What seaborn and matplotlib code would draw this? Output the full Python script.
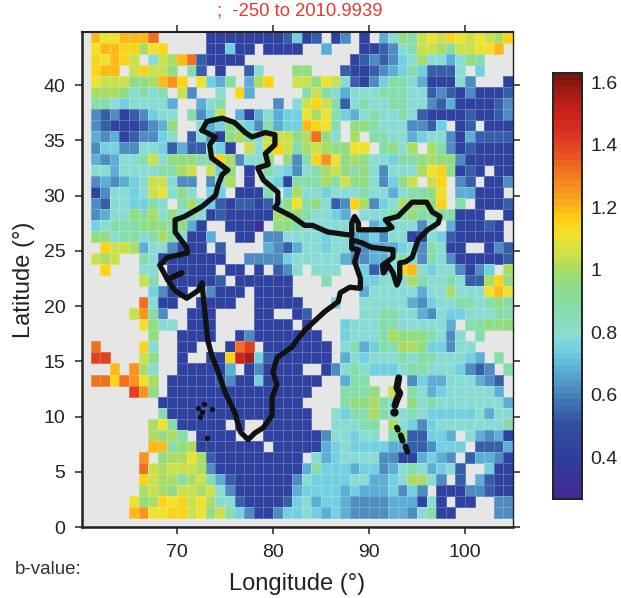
import matplotlib
matplotlib.use("Agg")
import matplotlib.pyplot as plt
import seaborn as sns
import numpy as np
import pandas as pd
from matplotlib.colors import LinearSegmentedColormap

sns.set_theme(style="ticks")
plt.rcParams['font.family'] = ['Liberation Sans', 'DejaVu Sans']

# b-value per 1 degree cell, one string per latitude row (north to south),
# each letter is a colour class, '.' is no data
grid_rows = [
    "mkkmmmo.....aaaaaaaabe" + "ab.ac.a.dfhgjkjlkjkjil",
    "kmmllikl....aaeaa.aaaa" + "..d...aabcfgjjigjjkkm.",
    "lkmlj.fjimobaaaa......" + ".....abcbcefiffdfhg...",
    "lmm.jljjh.gb.a..bf...h" + "h...baabcdegebbbf.e...",
    "kjjjhhimnl.kedg.dil..j" + "jhkjfbaceggfdaaafc...a",
    "iiihfgfg.jc..f.ld....." + "gjgfdfffgggffbcbacaaab",
    "ggfeffffd..dfg.....c.f" + "jljgbfgffggffcbdaaaabc",
    "cbcabceff.gcej.dadfdee" + "kikgedfgffgfbaaaabaabc",
    "cbaaabcdh..fdehfecgdee" + "mlkg.hhgfffccbe.ab.aaa",
    "dcdabccef.bfcahigfjjjh" + "iohf.i.ggffdeffcadbbbb",
    "ceeccffebdbbfea.jfjljg" + "ijihhkk.ghfi.igcabaaaa",
    "dcdffgjfhhhgglicffh.hc" + "glnkhihffegghihhcaaaaa",
    "ffdffffggij.jeh.a.gfec" + "fgijhghfcfffiklhaba.aa",
    "cdcdefjjfcc.cfi.a.feag" + "ggigjhhfcehj.jl.cb.aac",
    "acffefjkfhf.ee.aaag.ei" + "ffefffgffdfgghk.ddaaa.",
    "cbffeegf.gifebabbabfhk" + "ghfbclicefihhhl.g.aaab",
    "cdffhgifhfgfabaaaaaihh" + "gffed.fffgghggggaaa..a",
    "efggghhhghda..aaap.hhg" + "fffffg.defffcf.daaaba.",
    "hhfggfgigfaad..aa.ccff" + "ffeffddecffaafebaaaaa.",
    ".ljjidffcaaa.b....dcbd" + "ffeffccdddefcgfaa..acb",
    "jij..gfaaaaaaa..ccccef" + "ffffdccddfgfcgfcaaaaab",
    ".l...ff.aaaaa.aa.a.bcf" + ".fff..ebdflmfeffcace.i",
    ".....jg.aaaaab.aaaaaa." + "..g...eefffigffgfbbilh",
    "......ecaa..caaa.aaaa." + "......dfffffdffifffkmk",
    ".....ofaa..aaaa..aaaaa" + "...e..fffffdceffggfghg",
    "....jngc..aaa....aa..a" + "b.....ffggffdcfeefffgg",
    ".....khff.aaa....aaaa." + "a...efffggfffffd.gghhh",
    "......h..aaaa..acaaaaa" + "aa..efffgihhhgfcf.g...",
    "o....lf..aa...aoq.aaaa" + "aaa.fgdeggiiheecff....",
    "qq...jh..a..aalrsebaaa" + "aaa.dfefffgfggfffed.g.",
    "..m.nif..aaaaad.acaaaa" + "..acfgfeeefggfffecbc.g",
    "oolonki.aaaaabcaaeaaaa" + "aa..dgg....ceddfffdcb.",
    "....qnh.aaaaaaaaaaaaaa" + "a...gggh.j.gfdefffffd.",
    ".......aaaaaaaaaaaaaaa" + "....ghhigf.hfgfffffffd",
    ".......gaaaaaaaaaaaaaa" + "a..feggigffgfeeeeefdff",
    "......ikgaaaaa.a..aaaa" + "a..fffgg.ifecefffffffg",
    "......ihig.aaaa...aaaa" + "aacffeff.ghbbeed.fdcda",
    "......mmghiaaaaaaa.aaa" + "aadefeeeeddbbceee.bbbd",
    ".....n.hiikibaaaaaaaaa" + ".fdeffffccaadedc.bddca",
    ".....ojijjjicaaaaaaaaa" + "dgeeedeecdfgfdefb..eaa",
    ".....ljiigijgdbaaaaaac" + "feeeeffddefiifc.b.dbaa",
    ".....ijihjjijfcaaaaaad" + "eeeededddecec.aaaccbaa",
    "....khilkljkiffbaaaabe" + "fdeedccccdddafa.aa..cc",
    "....mnkklljkhjgecaacee" + "fededccccddcfgaa....cc",
]
code_letters = list("pabcdefghijklmnoqrs")
code_values = [0.30, 0.42, 0.54, 0.62, 0.69, 0.74, 0.79, 0.87, 0.95, 1.00,
               1.05, 1.10, 1.16, 1.20, 1.26, 1.32, 1.40, 1.48, 1.56]

# India outline, degrees
outline_lon = [72.6, 73.1, 74.7, 76.0, 77.1, 77.8, 79.2, 80.2, 80.2, 79.2, 79.5, 78.4, 79.0, 80.5, 80.5, 80.2,
               82.0, 83.3, 84.1, 85.7, 88.2, 88.2, 88.5, 88.9, 88.9, 91.7, 92.4, 91.7, 93.0, 94.5, 96.0, 96.6,
               97.4, 97.2, 96.1, 95.1, 94.5, 93.8, 93.2, 93.2, 92.9, 92.5, 92.0, 91.5, 91.4, 92.5, 92.5, 90.3,
               89.3, 88.2, 88.2, 88.9, 88.5, 89.1, 89.1, 88.0, 87.0, 86.8, 85.4, 84.4, 83.3, 82.3, 82.0, 80.4,
               80.0, 80.4, 79.9, 79.9, 79.0, 78.1, 77.4, 76.6, 76.0, 75.0, 74.3, 73.6, 73.2, 72.9, 72.6, 72.2,
               71.0, 69.8, 69.0, 70.5, 69.0, 68.2, 69.0, 71.1, 71.0, 69.8, 69.8, 70.8, 72.6, 74.0, 74.3, 74.7,
               75.3, 73.6, 73.4, 74.0, 72.6]
outline_lat = [35.9, 36.7, 37.0, 36.6, 35.7, 35.3, 35.7, 35.5, 34.6, 33.8, 32.8, 32.5, 31.4, 30.3, 29.3, 28.9,
               28.1, 27.3, 27.3, 26.7, 26.4, 27.5, 28.1, 27.5, 26.9, 26.9, 27.1, 27.8, 28.1, 29.4, 29.4, 28.5,
               28.1, 27.5, 26.9, 26.0, 24.4, 24.0, 23.9, 22.5, 21.9, 23.0, 23.7, 23.0, 23.7, 24.4, 25.1, 25.3,
               25.7, 26.0, 25.2, 25.1, 24.0, 22.5, 21.6, 21.7, 21.2, 20.4, 19.5, 18.7, 17.8, 16.7, 16.3, 15.3,
               14.0, 12.9, 11.7, 10.1, 9.0, 8.5, 7.9, 8.6, 10.4, 12.2, 14.0, 15.6, 16.9, 19.4, 22.1, 21.4,
               20.7, 21.4, 22.4, 23.0, 22.4, 23.7, 24.4, 24.8, 25.3, 26.7, 27.8, 28.1, 29.0, 30.0, 31.0, 31.9,
               32.3, 33.4, 34.6, 35.3, 35.9]
andaman_lon = [93.1, 92.9, 93.2, 92.9, 92.7]
andaman_lat = [13.5, 12.6, 12.1, 11.5, 11.0]
andaman_south_lon = [92.6]
andaman_south_lat = [10.4]
nicobar_north_lon = [92.9, 93.0]
nicobar_north_lat = [9.0, 8.8]
nicobar_lon = [93.3, 93.5]
nicobar_lat = [8.3, 7.8]
nicobar_south_lon = [93.8, 94.0]
nicobar_south_lat = [7.3, 6.8]
lakshadweep_lon = [72.8, 72.2, 72.6, 73.6, 72.4, 73.1]
lakshadweep_lat = [11.1, 10.8, 10.4, 10.7, 10.0, 8.1]

x_ticks = [70, 80, 90, 100]
y_ticks = [0, 5, 10, 15, 20, 25, 30, 35, 40]
bar_ticks = [0.4, 0.6, 0.8, 1.0, 1.2, 1.4, 1.6]
bar_labels = ['0.4', '0.6', '0.8', '1', '1.2', '1.4', '1.6']

# first cell starts at 61 E, top row starts at 44.8 N
lon_left = 61
lat_top = 44.8
vmin, vmax = 0.266, 1.629

lookup = dict(zip(code_letters, code_values))
grid = [[lookup.get(ch, np.nan) for ch in row] for row in grid_rows]
df = pd.DataFrame(grid)

color_stops = [(0.266, '#3f2a96'), (0.40, '#2e3f9f'), (0.50, '#33509f'), (0.55, '#3a6bb0'),
               (0.62, '#4f8fc2'), (0.70, '#62bbdd'), (0.74, '#72d0e2'), (0.79, '#8cdcd2'),
               (0.88, '#85dca6'), (0.95, '#8fdc8a'), (1.00, '#aadc66'), (1.05, '#cfe04c'),
               (1.12, '#f3e12a'), (1.17, '#ffcd10'), (1.22, '#faa81e'), (1.30, '#f47f20'),
               (1.38, '#e84e22'), (1.45, '#da2f22'), (1.52, '#c8201a'), (1.58, '#9f1c12'),
               (1.629, '#7a1510')]
cmap = LinearSegmentedColormap.from_list(
    'bvalue', [((v - vmin) / (vmax - vmin), c) for v, c in color_stops], N=64)

W, H = 621, 598
fig = plt.figure(figsize=(W / 100, H / 100), dpi=100)
ax = fig.add_axes([82 / W, 1 - 527 / H, 431 / W, 495 / H])
cax = fig.add_axes([553 / W, 1 - 499 / H, 29 / W, 426 / H])

sns.heatmap(df, ax=ax, cmap=cmap, vmin=vmin, vmax=vmax, cbar_ax=cax,
            cbar_kws={'ticks': bar_ticks}, linewidths=0.4, linecolor=(1, 1, 1, 0.22),
            xticklabels=False, yticklabels=False)
ax.set_facecolor('#e6e6e6')
ax.set_xlim(60.1 - lon_left, 105 - lon_left)
ax.set_ylim(lat_top, 0)

# keep the faint cell edges on cells with data only
has_data = df.notna().to_numpy().ravel()
edge_colors = np.zeros((has_data.size, 4))
edge_colors[has_data] = (1, 1, 1, 0.22)
ax.collections[0].set_edgecolor(edge_colors)


def to_x(lon):
    return np.array(lon) - lon_left


def to_y(lat):
    return lat_top - np.array(lat)


ax.plot(to_x(outline_lon), to_y(outline_lat), color='#111111', lw=3.8, solid_joinstyle='round')
ax.plot(to_x(andaman_lon), to_y(andaman_lat), color='#111111', lw=5, solid_capstyle='round')
ax.plot(to_x(andaman_south_lon), to_y(andaman_south_lat), 'o', color='#111111', ms=5)
for seg_lon, seg_lat in [(nicobar_north_lon, nicobar_north_lat), (nicobar_lon, nicobar_lat),
                         (nicobar_south_lon, nicobar_south_lat)]:
    ax.plot(to_x(seg_lon), to_y(seg_lat), color='#111111', lw=4.2, solid_capstyle='round')
ax.plot(to_x(lakshadweep_lon), to_y(lakshadweep_lat), 'o', color='#111111', ms=2.8)

ax.set_xticks(to_x(x_ticks))
ax.set_xticklabels([str(v) for v in x_ticks])
ax.set_yticks(to_y(y_ticks))
ax.set_yticklabels([str(v) for v in y_ticks], rotation=0)
ax.tick_params(axis='both', direction='out', length=5, width=1.1, labelsize=14, color='#222222',
               labelcolor='#222222', top=True, right=True, pad=7)
ax.set_xlabel('Longitude (°)', fontsize=17, color='#222222', labelpad=9)
ax.set_ylabel('Latitude (°)', fontsize=17, color='#222222', labelpad=6)
for side, lw in [('left', 1.8), ('bottom', 1.8), ('top', 1.5), ('right', 1.0)]:
    ax.spines[side].set_visible(True)
    ax.spines[side].set_linewidth(lw)
    ax.spines[side].set_color('#222222')

cax.set_yticklabels(bar_labels)
cax.tick_params(axis='y', direction='in', length=5, width=1.0, labelsize=14, color='#222222',
                labelcolor='#222222', right=True, pad=6)
for spine in cax.spines.values():
    spine.set_visible(True)
    spine.set_linewidth(1.2)
    spine.set_color('#222222')

fig.text(300 / W, 1 - 11 / H, ';  -250 to 2010.9939', color='#e23a32', fontsize=13.3, ha='center', va='center')
fig.text(15 / W, 1 - 569 / H, 'b-value:', color='#333333', fontsize=13.5, ha='left', va='center')

plt.savefig('out.png', dpi=100)
